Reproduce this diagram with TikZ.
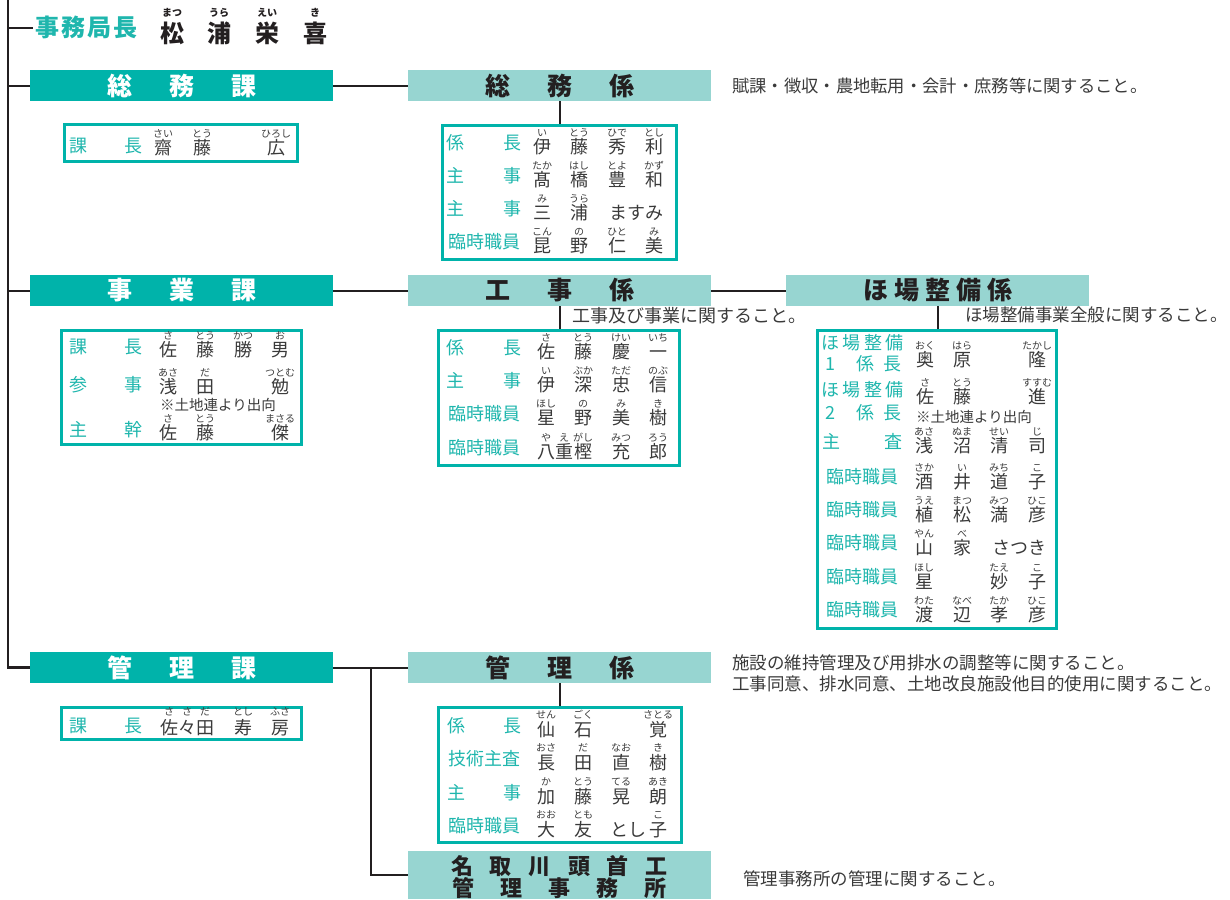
\documentclass[tikz,border=0pt]{standalone}
\usepackage{fontspec}
\setmainfont{Noto Sans CJK JP}
\newfontfamily\jp{Noto Sans CJK JP}
\definecolor{kateal}{HTML}{00B3AA}
\definecolor{kalight}{HTML}{97D5D1}
\definecolor{titlec}{HTML}{1FB6AD}
\definecolor{namec}{HTML}{3A3A3A}
\definecolor{linec}{HTML}{231F20}
\newcounter{nn}
\def\roff{14}
\newcommand\K[4]{\stepcounter{nn}\node[nm] (k\arabic{nn}) at (#1,#2) {#3};\node[rb] (r\arabic{nn}) at (#1,#2-\roff) {#4};}
\newcommand\T[3]{\stepcounter{nn}\node[tt] (t\arabic{nn}) at (#1,#2) {#3};}
\tikzset{
 kabar/.style={fill=kateal, text=white, font=\jp\bfseries\fontsize{25}{25}\selectfont, minimum width=303pt, minimum height=31pt, inner sep=0pt},
 kkbar/.style={kabar, fill=kalight, text=linec},
 mbox/.style={draw=kateal, line width=3pt, inner sep=0pt},
 conn/.style={draw=linec, line width=2pt},
 nm/.style={font=\jp\fontsize{18}{18}\selectfont, text=namec, inner sep=0pt, text height=15.8pt, text depth=2.2pt},
 rb/.style={font=\jp\fontsize{10}{10}\selectfont, text=namec, inner sep=0pt, text height=8.8pt, text depth=1.2pt},
 tt/.style={font=\jp\fontsize{18}{18}\selectfont, text=titlec, inner sep=0pt, text height=15.8pt, text depth=2.2pt},
 desc/.style={font=\jp\fontsize{17.5}{17.5}\selectfont, text=namec, inner sep=0pt, anchor=west, text height=15.4pt, text depth=2.1pt},
 note/.style={font=\jp\fontsize{14.5}{14.5}\selectfont, text=namec, inner sep=0pt, text height=12.8pt, text depth=1.7pt},
 hn/.style={font=\jp\bfseries\fontsize{24}{24}\selectfont, text=linec, inner sep=0pt, text height=21pt, text depth=3pt},
 hr/.style={font=\jp\bfseries\fontsize{10}{10}\selectfont, text=linec, inner sep=0pt, text height=8.8pt, text depth=1.2pt},
}
\begin{document}
\begin{tikzpicture}[x=1pt,y=-1pt]
\useasboundingbox (0,0) rectangle (1230,899);
% header
\coordinate (top) at (8,0);
\node[anchor=west, font=\jp\bfseries\fontsize{24}{24}\selectfont, text=titlec, inner sep=0pt, text height=21pt, text depth=3pt] (jmk) at (35,28) {事\hspace{2pt}務\hspace{2pt}局\hspace{2pt}長};
\node[hn] (h1) at (172,33) {松}; \node[hr] (hr1) at (172,13) {まつ};
\node[hn] (h2) at (219,33) {浦}; \node[hr] (hr2) at (219,13) {うら};
\node[hn] (h3) at (267,33) {栄}; \node[hr] (hr3) at (267,13) {えい};
\node[hn] (h4) at (315,33) {喜}; \node[hr] (hr4) at (315,13) {き};
% bars
\node[kabar] (soumuka) at (181.5,85.5) {総\hspace{37pt}務\hspace{37pt}課};
\node[kkbar] (soumukakari) at (559.5,85.5) {総\hspace{37pt}務\hspace{37pt}係};
\node[kabar] (jigyoka) at (181.5,290.5) {事\hspace{37pt}業\hspace{37pt}課};
\node[kkbar] (kojikakari) at (559.5,290.5) {工\hspace{37pt}事\hspace{37pt}係};
\node[kkbar] (hojokakari) at (937.5,290.5) {ほ\hspace{6pt}場\hspace{6pt}整\hspace{6pt}備\hspace{6pt}係};
\node[kabar] (kanrika) at (181.5,667.5) {管\hspace{37pt}理\hspace{37pt}課};
\node[kkbar] (kanrikakari) at (559.5,667.5) {管\hspace{37pt}理\hspace{37pt}係};
\node[kkbar, minimum height=48pt] (natori) at (559.5,875) {};
\node[font=\jp\bfseries\fontsize{22}{22}\selectfont, text=linec, inner sep=0pt] (nat1) at (559.5,866) {名\hspace{17pt}取\hspace{17pt}川\hspace{17pt}頭\hspace{17pt}首\hspace{17pt}工};
\node[font=\jp\bfseries\fontsize{22}{22}\selectfont, text=linec, inner sep=0pt] (nat2) at (559.5,888) {管\hspace{26pt}理\hspace{26pt}事\hspace{26pt}務\hspace{26pt}所};
% member boxes
\node[mbox, minimum width=233pt, minimum height=37pt] (soumukabox) at (181,143) {};
\node[mbox, minimum width=234pt, minimum height=134pt] (soumubox) at (559.5,192.5) {};
\node[mbox, minimum width=240pt, minimum height=114pt] (jigyokabox) at (181.5,387.5) {};
\node[mbox, minimum width=241pt, minimum height=135pt] (kojibox) at (559,398) {};
\node[mbox, minimum width=239pt, minimum height=298pt] (hojobox) at (937,479.5) {};
\node[mbox, minimum width=240pt, minimum height=32pt] (kanrikabox) at (181.5,723.5) {};
\node[mbox, minimum width=243pt, minimum height=135pt] (kanribox) at (560,775) {};
% connectors
\draw[conn, line width=2.5pt] (top) |- (kanrika.west);
\draw[conn] (jmk.west -| top) -- ([xshift=-2pt]jmk.west);
\draw[conn] (soumuka.west -| top) -- (soumuka.west);
\draw[conn] (jigyoka.west -| top) -- (jigyoka.west);
\draw[conn] (soumuka.east) -- (soumukakari.west);
\draw[conn] (jigyoka.east) -- (kojikakari.west);
\draw[conn] (kojikakari.east) -- (hojokakari.west);
\draw[conn] (kanrika.east) -- (kanrikakari.west);
\coordinate (kb) at (371,667.5);
\draw[conn] (kb) |- (natori.west);
\draw[conn] (soumukakari.south) -- (soumukakari.south |- soumubox.north);
\draw[conn] (kojikakari.south) -- (kojikakari.south |- kojibox.north);
\draw[conn] (hojokakari.south) -- (hojokakari.south |- hojobox.north);
\draw[conn] (kanrikakari.south) -- (kanrikakari.south |- kanribox.north);
% descriptions
\node[desc, font=\jp\fontsize{17.3}{17.3}\selectfont] (d1) at (732,86) {賦課・徴収・農地転用・会計・庶務等に関すること。};
\node[desc, font=\jp\fontsize{18}{18}\selectfont] (d2) at (572,316) {工事及び事業に関すること。};
\node[desc] (d3) at (965,315) {ほ場整備事業全般に関すること。};
\node[desc] (d4) at (732,663) {施設の維持管理及び用排水の調整等に関すること。};
\node[desc] (d5) at (732,684) {工事同意、排水同意、土地改良施設他目的使用に関すること。};
\node[desc] (d6) at (743,879) {管理事務所の管理に関すること。};
% soumuka members
\T{78}{146}{課}\T{133}{146}{長}
\K{163}{148}{齋}{さい}\K{202}{148}{藤}{とう}\K{276}{148}{広}{ひろし}
% soumu kakari
\T{455}{143}{係}\T{512}{143}{長}\K{542}{147}{伊}{い}\K{579}{147}{藤}{とう}\K{617}{147}{秀}{ひで}\K{654}{147}{利}{とし}
\T{455}{176}{主}\T{512}{176}{事}\K{542}{180}{髙}{たか}\K{579}{180}{橋}{はし}\K{617}{180}{豊}{とよ}\K{654}{180}{和}{かず}
\T{455}{209}{主}\T{512}{209}{事}\K{542}{213}{三}{み}\K{579}{213}{浦}{うら}\node[nm] (masumi) at (636,213) {ますみ};
\T{484}{242}{臨時職員}\K{542}{246}{昆}{こん}\K{579}{246}{野}{の}\K{617}{246}{仁}{ひと}\K{654}{246}{美}{み}
% jigyoka members
\T{78}{347}{課}\T{133}{347}{長}\K{168}{350}{佐}{さ}\K{205}{350}{藤}{とう}\K{243}{350}{勝}{かつ}\K{280}{350}{男}{お}
\T{78}{385}{参}\T{133}{385}{事}\K{168}{387}{浅}{あさ}\K{205}{387}{田}{だ}\K{280}{387}{勉}{つとむ}
\node[note] (n1) at (218,405) {※土地連より出向};
\T{78}{430}{主}\T{133}{430}{幹}\K{168}{433}{佐}{さ}\K{205}{433}{藤}{とう}\K{280}{433}{傑}{まさる}
% koji kakari
\T{455}{348}{係}\T{512}{348}{長}\K{546}{352}{佐}{さ}\K{583}{352}{藤}{とう}\K{621}{352}{慶}{けい}\K{658}{352}{一}{いち}
\T{455}{381}{主}\T{512}{381}{事}\K{546}{385}{伊}{い}\K{583}{385}{深}{ぶか}\K{621}{385}{忠}{ただ}\K{658}{385}{信}{のぶ}
\T{484}{414}{臨時職員}\K{546}{418}{星}{ほし}\K{583}{418}{野}{の}\K{621}{418}{美}{み}\K{658}{418}{樹}{き}
\T{484}{448}{臨時職員}\K{546}{452}{八}{や}\K{564}{452}{重}{え}\K{583}{452}{樫}{がし}\K{621}{452}{充}{みつ}\K{658}{452}{郎}{ろう}
% hojo kakari
\T{830}{343}{ほ}\T{851}{343}{場}\T{873}{343}{整}\T{894}{343}{備}
\T{830}{364}{1}\T{865}{364}{係}\T{892}{364}{長}
\K{925}{360}{奥}{おく}\K{962}{360}{原}{はら}\K{1037}{360}{隆}{たかし}
\T{830}{390}{ほ}\T{851}{390}{場}\T{873}{390}{整}\T{894}{390}{備}
\T{830}{413}{2}\T{865}{413}{係}\T{892}{413}{長}
\K{925}{397}{佐}{さ}\K{962}{397}{藤}{とう}\K{1037}{397}{進}{すすむ}
\node[note] (n2) at (974,417) {※土地連より出向};
\T{831}{442}{主}\T{893}{442}{査}\K{924}{446}{浅}{あさ}\K{962}{446}{沼}{ぬま}\K{999}{446}{清}{せい}\K{1037}{446}{司}{じ}
\T{862}{477}{臨時職員}\K{924}{482}{酒}{さか}\K{962}{482}{井}{い}\K{999}{482}{道}{みち}\K{1037}{482}{子}{こ}
\T{862}{510}{臨時職員}\K{924}{515}{植}{うえ}\K{962}{515}{松}{まつ}\K{999}{515}{満}{みつ}\K{1037}{515}{彦}{ひこ}
\T{862}{543}{臨時職員}\K{924}{548}{山}{やん}\K{962}{548}{家}{べ}\node[nm] (satsuki) at (1019,548) {さつき};
\T{862}{577}{臨時職員}\K{924}{582}{星}{ほし}\K{999}{582}{妙}{たえ}\K{1037}{582}{子}{こ}
\T{862}{610}{臨時職員}\K{924}{615}{渡}{わた}\K{962}{615}{辺}{なべ}\K{999}{615}{孝}{たか}\K{1037}{615}{彦}{ひこ}
% kanrika members
\def\roff{16}
\T{78}{726}{課}\T{133}{726}{長}\K{169}{728}{佐}{さ}\K{187}{728}{々}{さ}\K{205}{728}{田}{だ}\K{243}{728}{寿}{とし}\K{280}{728}{房}{ふさ}
\def\roff{15}
% kanri kakari
\T{456}{726}{係}\T{512}{726}{長}\K{546}{730}{仙}{せん}\K{583}{730}{石}{ごく}\K{658}{730}{覚}{さとる}
\T{484}{759}{技術主査}\K{546}{763}{長}{おさ}\K{583}{763}{田}{だ}\K{621}{763}{直}{なお}\K{658}{763}{樹}{き}
\T{456}{793}{主}\T{512}{793}{事}\K{546}{797}{加}{か}\K{583}{797}{藤}{とう}\K{621}{797}{晃}{てる}\K{658}{797}{朗}{あき}
\T{484}{826}{臨時職員}\K{546}{830}{大}{おお}\K{583}{830}{友}{とも}\node[nm] (toshi) at (628,830) {とし};\K{658}{830}{子}{こ}
\end{tikzpicture}
\end{document}
